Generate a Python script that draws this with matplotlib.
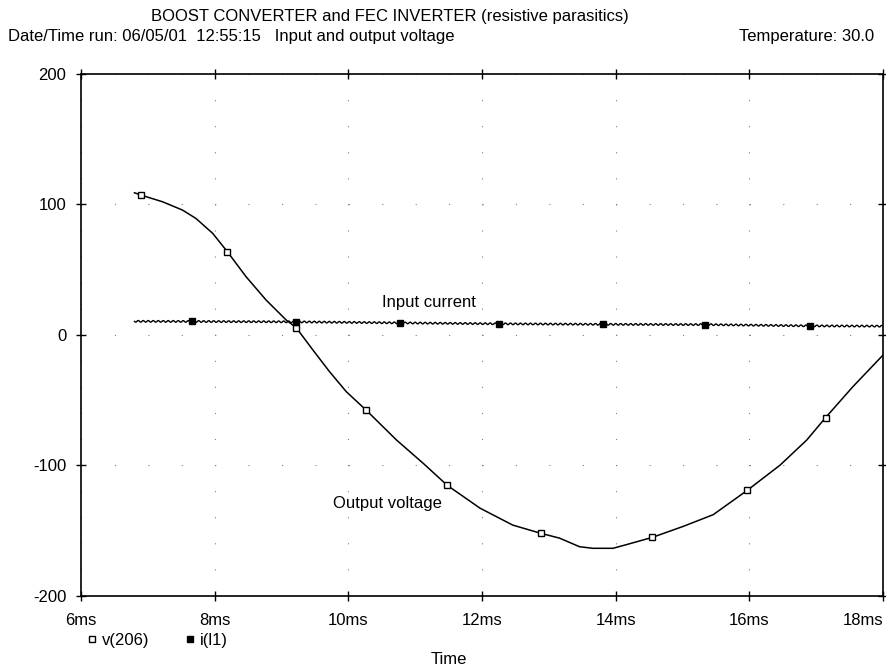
import matplotlib
matplotlib.use('Agg')
import matplotlib.pyplot as plt
from matplotlib.lines import Line2D
from matplotlib.ticker import FuncFormatter

plt.rcParams['font.family'] = ['Liberation Sans', 'DejaVu Sans']
plt.rcParams['lines.scale_dashes'] = False
plt.rcParams['axes.unicode_minus'] = False

# output voltage v(206), time in ms
t_volt = [6.80, 6.90, 7.22, 7.52, 7.72, 7.97, 8.19, 8.47, 8.77, 9.07, 9.22, 9.47,
          9.72, 9.97, 10.27, 10.72, 11.12, 11.48, 11.97, 12.46, 12.88, 13.16, 13.46,
          13.66, 13.96, 14.16, 14.55, 15.01, 15.46, 15.97, 16.46, 16.86, 17.14,
          17.55, 18.0]
v_out = [108.9, 107.1, 102.0, 95.6, 89.2, 77.8, 63.7, 44.5, 26.6, 11.3, 5.4, -11.7,
         -28.4, -43.7, -58.0, -80.7, -98.6, -115.5, -133.0, -146.0, -152.3, -156.0,
         -162.6, -163.8, -163.8, -161.0, -155.4, -147.0, -138.0, -119.3, -100.0,
         -80.7, -63.6, -39.8, -15.6]
v_marks = [1, 6, 10, 14, 17, 20, 26, 29, 32]

# input current i(l1)
t_curr = [6.80, 7.66, 9.21, 10.78, 12.25, 13.81, 15.34, 16.91, 18.0]
i_in = [10.3, 10.2, 9.9, 9.1, 8.4, 8.0, 7.8, 6.8, 6.6]
i_marks = [1, 2, 3, 4, 5, 6, 7]

x_ticks = [6, 8, 10, 12, 14, 16, 18]
y_ticks = [-200, -100, 0, 100, 200]

W, H = 886, 669
fig = plt.figure(figsize=(W / 100, H / 100), dpi=100)
ax = fig.add_axes([81 / W, 1 - 595.5 / H, 802 / W, 521.5 / H])

# voltage trace with hollow squares
ax.plot(t_volt, v_out, color='black', lw=1.1)
ax.plot([t_volt[k] for k in v_marks], [v_out[k] for k in v_marks], ls='none',
        marker='s', ms=4.4, mfc='white', mec='black', mew=1.0)

# current trace: rippled line + filled squares
cur, = ax.plot(t_curr, i_in, color='black', lw=1.0)
cur.set_sketch_params(scale=0.9, length=5, randomness=1)
ax.plot([t_curr[k] for k in i_marks], [i_in[k] for k in i_marks], ls='none',
        marker='s', ms=4.0, color='black')

ax.text(10.51, 25, 'Input current', fontsize=12, va='center', ha='left')
ax.text(9.77, -129.8, 'Output voltage', fontsize=12, va='center', ha='left')

ax.set_xlim(6, 18)
ax.set_ylim(-200, 200)
ax.set_xticks(x_ticks)
ax.set_yticks(y_ticks)
ax.xaxis.set_major_formatter(FuncFormatter(lambda v, p: f'{v:g}ms'))
ax.tick_params(direction='inout', length=7.2, width=1.0, top=True, right=True,
               labelsize=12, colors='black')
ax.tick_params(axis='y', pad=7)
ax.tick_params(axis='x', pad=9)
fig.canvas.draw()
ax.get_xticklabels()[-1].set_horizontalalignment('right')

# dotted grid: dots every 0.5ms along y gridlines, every 20 along x gridlines
ax.grid(axis='y', color='#7f7f7f', lw=0.8, linestyle=(0, (0.8, 23.26)))
ax.grid(axis='x', color='#7f7f7f', lw=0.8, linestyle=(0, (0.8, 17.97)))
for s in ax.spines.values():
    s.set_linewidth(1.2)
    s.set_color('black')

fig.text(151 / W, 1 - 16 / H, 'BOOST CONVERTER and FEC INVERTER (resistive parasitics)',
         fontsize=12, ha='left', va='center')
fig.text(8 / W, 1 - 37 / H, 'Date/Time run: 06/05/01  12:55:15   Input and output voltage',
         fontsize=12, ha='left', va='center')
fig.text(874 / W, 1 - 37 / H, 'Temperature: 30.0', fontsize=12, ha='right', va='center')
fig.text(449 / W, 1 - 660 / H, 'Time', fontsize=12, ha='center', va='center')

handles = [Line2D([], [], ls='none', marker='s', ms=4.4, mfc='white', mec='black', mew=1.0),
           Line2D([], [], ls='none', marker='s', ms=4.0, color='black')]
fig.legend(handles, ['v(206)', 'i(l1)'], loc='center left', ncol=2,
           bbox_to_anchor=(87 / W, 1 - 640 / H), frameon=False, fontsize=12,
           handlelength=0.6, handletextpad=0.3, columnspacing=2.1,
           borderpad=0, borderaxespad=0)

fig.savefig('out.png', dpi=100)
